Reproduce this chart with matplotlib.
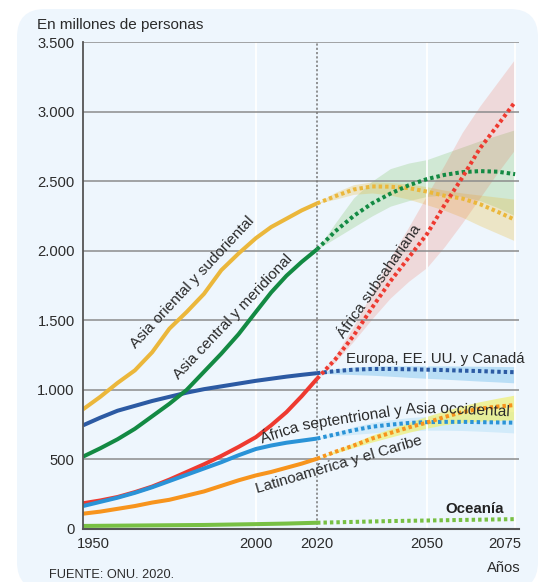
import numpy as np
import matplotlib
matplotlib.use('Agg')
import matplotlib.pyplot as plt
import matplotlib.transforms as mtransforms
from matplotlib.patches import FancyBboxPatch, PathPatch
from matplotlib.font_manager import FontProperties
from matplotlib.textpath import TextPath
from matplotlib.path import Path

plt.rcParams['font.family'] = ['Liberation Sans', 'DejaVu Sans']

# ---- datos (millones de personas) ----
years_hist = [1950, 1955, 1960, 1965, 1970, 1975, 1980, 1985, 1990, 1995, 2000, 2005, 2010, 2015, 2020]
years_proj = [2020, 2025, 2030, 2035, 2040, 2045, 2050, 2055, 2060, 2065, 2070, 2075]

asia_or_hist = [860, 950, 1050, 1140, 1270, 1440, 1560, 1690, 1860, 1980, 2090, 2170, 2230, 2290, 2340]
asia_or_proj = [2340, 2392, 2440, 2462, 2460, 2450, 2425, 2395, 2375, 2335, 2280, 2222]
asia_or_lo = [2340, 2370, 2405, 2415, 2400, 2370, 2330, 2290, 2240, 2180, 2125, 2070]
asia_or_hi = [2340, 2420, 2475, 2495, 2490, 2480, 2460, 2435, 2415, 2400, 2385, 2370]

asia_ce_hist = [520, 580, 645, 720, 810, 900, 1000, 1130, 1260, 1400, 1560, 1700, 1820, 1920, 2010]
asia_ce_proj = [2010, 2140, 2250, 2340, 2410, 2470, 2515, 2545, 2565, 2572, 2568, 2550]
asia_ce_lo = [2010, 2090, 2170, 2250, 2320, 2360, 2390, 2400, 2390, 2360, 2310, 2250]
asia_ce_hi = [2010, 2200, 2380, 2500, 2590, 2630, 2655, 2700, 2745, 2790, 2830, 2870]

afr_sub_hist = [185, 205, 230, 265, 305, 355, 410, 465, 525, 590, 660, 745, 840, 955, 1080]
afr_sub_proj = [1080, 1220, 1390, 1590, 1780, 1950, 2120, 2330, 2525, 2735, 2900, 3070]
afr_sub_lo = [1080, 1200, 1350, 1510, 1660, 1780, 1880, 2030, 2200, 2380, 2560, 2730]
afr_sub_hi = [1080, 1250, 1460, 1700, 1950, 2170, 2400, 2620, 2850, 3040, 3210, 3380]

europa_hist = [745, 800, 850, 885, 920, 950, 980, 1005, 1025, 1045, 1065, 1080, 1095, 1108, 1120]
europa_proj = [1120, 1135, 1145, 1150, 1150, 1148, 1145, 1142, 1138, 1135, 1130, 1127]
europa_lo = [1120, 1115, 1110, 1105, 1098, 1090, 1083, 1077, 1070, 1063, 1057, 1050]
europa_hi = [1120, 1150, 1165, 1170, 1172, 1173, 1172, 1172, 1171, 1170, 1168, 1167]

afr_sep_hist = [165, 195, 225, 260, 300, 345, 390, 435, 480, 530, 575, 600, 620, 635, 650]
afr_sep_proj = [650, 680, 710, 735, 750, 762, 768, 770, 770, 768, 766, 764]
afr_sep_lo = [650, 665, 680, 690, 700, 705, 710, 710, 708, 703, 697, 690]
afr_sep_hi = [650, 695, 735, 765, 785, 800, 810, 818, 825, 832, 838, 845]

latam_hist = [110, 125, 145, 165, 190, 210, 240, 270, 310, 350, 385, 410, 440, 470, 505]
latam_proj = [505, 555, 600, 650, 690, 730, 765, 805, 840, 865, 880, 891]
latam_lo = [505, 545, 585, 625, 660, 695, 725, 750, 765, 775, 780, 785]
latam_hi = [505, 565, 620, 675, 720, 765, 810, 850, 885, 915, 940, 963]

oceania_hist = [22, 23, 24, 25, 26, 27, 28, 29, 31, 33, 35, 37, 39, 42, 45]
oceania_proj = [45, 48, 51, 54, 57, 59, 61, 63, 65, 67, 69, 71]

y_ticks = [0, 500, 1000, 1500, 2000, 2500, 3000, 3500]
y_labels = ['0', '500', '1.000', '1.500', '2.000', '2.500', '3.000', '3.500']
x_ticks = [1950, 2000, 2020, 2050, 2075]

# eje de años algo irregular, como en el original
anchor_years = np.array([1950, 2000, 2020, 2050, 2075], float)
anchor_warp = np.array([1950, 2000, 2017.7, 2049.5, 2075], float)


def fwd(x):
    x = np.asarray(x, float)
    y = np.interp(x, anchor_years, anchor_warp)
    y = np.where(x < 1950, 1950 + (x - 1950), y)
    y = np.where(x > 2075, 2075 + (x - 2075) * 1.02, y)
    return y


def inv(w):
    w = np.asarray(w, float)
    y = np.interp(w, anchor_warp, anchor_years)
    y = np.where(w < 1950, 1950 + (w - 1950), y)
    y = np.where(w > 2075, 2075 + (w - 2075) / 1.02, y)
    return y


BG = '#eef6fd'
TXT = '#2b2b2b'

fig = plt.figure(figsize=(5.41, 5.82), dpi=100)
fig.patches.append(FancyBboxPatch((0.17, -0.08), 5.21, 5.81,
                                  boxstyle='round,pad=0,rounding_size=0.28',
                                  transform=fig.dpi_scale_trans, fc=BG, ec='none', zorder=-5))

ax = fig.add_axes([83 / 541, 53 / 582, 436 / 541, 487 / 582])
ax.set_facecolor('none')
ax.set_xscale('function', functions=(fwd, inv))
ax.set_xlim(1950, 2076.1)
ax.set_ylim(0, 3500)

# bandas de incertidumbre
bands = [
    (europa_lo, europa_hi, '#b9def6', 1.0),
    (afr_sep_lo, afr_sep_hi, '#d2ebfa', 1.0),
    (asia_ce_lo, asia_ce_hi, '#8cc878', 0.3),
    (asia_or_lo, asia_or_hi, '#e9b93a', 0.28),
    (afr_sub_lo, afr_sub_hi, '#ee5a40', 0.18),
    (latam_lo, latam_hi, '#eef07a', 0.75),
]
for lo, hi, c, a in bands:
    ax.fill_between(years_proj, lo, hi, color=c, alpha=a, lw=0, zorder=1)

for y in y_ticks:
    ax.axhline(y, color='#8c8c8c', lw=1.1, zorder=1.8)
for x in [2000, 2050, 2075]:
    ax.axvline(x, color='white', lw=1.3, zorder=1.6)
ax.axvline(2020, color='#777777', lw=1.1, ls=(0, (1.4, 1.4)), zorder=2)

series = [
    ('oceania', oceania_hist, oceania_proj, '#78c043'),
    ('afr_sub', afr_sub_hist, afr_sub_proj, '#ee3a30'),
    ('afr_sep', afr_sep_hist, afr_sep_proj, '#2a93d7'),
    ('latam', latam_hist, latam_proj, '#f7941d'),
    ('europa', europa_hist, europa_proj, '#2c5aa3'),
    ('asia_or', asia_or_hist, asia_or_proj, '#ebb73b'),
    ('asia_ce', asia_ce_hist, asia_ce_proj, '#138a43'),
]
for i, (name, h, p, c) in enumerate(series):
    ax.plot(years_hist, h, color=c, lw=2.9, solid_capstyle='butt', zorder=3 + i * 0.01)
proj_order = ['oceania', 'afr_sep', 'latam', 'europa', 'asia_or', 'asia_ce', 'afr_sub']
lookup = {s[0]: s for s in series}
for i, name in enumerate(proj_order):
    _, h, p, c = lookup[name]
    ax.plot(years_proj, p, color=c, lw=2.9, ls=(0, (0.85, 0.75)),
            dash_capstyle='butt', zorder=4 + i * 0.01)

for s in ['top', 'right']:
    ax.spines[s].set_visible(False)
ax.spines['left'].set_color('#555555')
ax.spines['left'].set_linewidth(1.3)
ax.spines['bottom'].set_color('#555555')
ax.spines['bottom'].set_linewidth(1.5)
ax.spines['left'].set_zorder(5)
ax.spines['bottom'].set_zorder(5)

ax.set_yticks(y_ticks)
ax.set_yticklabels(y_labels)
ax.set_xticks(x_ticks)
ax.set_xticklabels([str(x) for x in x_ticks])
ax.minorticks_off()
ax.tick_params(axis='both', length=0, labelsize=10.6, labelcolor=TXT)
ax.tick_params(axis='y', pad=6)
ax.tick_params(axis='x', pad=6)
xl = ax.get_xticklabels()
xl[0].set_ha('left')
xl[0].set_transform(xl[0].get_transform() + mtransforms.ScaledTranslation(-0.06, 0, fig.dpi_scale_trans))
xl[-1].set_ha('right')
xl[-1].set_transform(xl[-1].get_transform() + mtransforms.ScaledTranslation(0.06, 0, fig.dpi_scale_trans))

fig.text(37 / 541, (582 - 28.5) / 582, 'En millones de personas', fontsize=11, color=TXT, va='baseline')
fig.text(521 / 541, (582 - 572) / 582, 'Años', fontsize=10.6, color=TXT, ha='right', va='baseline')
fig.text(49 / 541, 4 / 582, 'FUENTE: ONU. 2020.', fontsize=9.2, color=TXT, va='baseline')

lab = dict(fontsize=11, color=TXT, rotation_mode='anchor')
ax.text(1981.5, 1771, 'Asia oriental y sudoriental', rotation=47, ha='center', va='center', zorder=6, **lab)
ax.text(1993.3, 1526, 'Asia central y meridional', rotation=46.5, ha='center', va='center', zorder=6, **lab)
ax.text(2036.9, 1782, 'África subsahariana', rotation=55, ha='center', va='center', zorder=6, **lab)
ax.text(2027.8, 1193, 'Europa, EE. UU. y Canadá', ha='left', va='baseline', zorder=6,
        fontsize=10.8, color=TXT)
ax.text(2000.5, 259, 'Latinoamérica y el Caribe', rotation=16.5, ha='left', va='baseline', zorder=6, **lab)
ax.text(2055.1, 113, 'Oceanía', ha='left', va='baseline', fontweight='bold', zorder=6,
        fontsize=10.8, color='#222222')


def curved_text(ax, s, gx, gy, size, color):
    # el contorno del texto se dobla siguiendo una guía
    fp = FontProperties(family=['Liberation Sans', 'DejaVu Sans'], size=size)
    tp = TextPath((0, 0), s, size=size, prop=fp)
    v = tp.vertices * fig.dpi / 72.0
    pts = ax.transData.transform(np.column_stack([gx, gy]))
    seg = np.hypot(np.diff(pts[:, 0]), np.diff(pts[:, 1]))
    cum = np.concatenate([[0], np.cumsum(seg)])
    d = v[:, 0]
    px = np.interp(d, cum, pts[:, 0])
    py = np.interp(d, cum, pts[:, 1])
    tx = np.interp(d + 8, cum, pts[:, 0]) - np.interp(d - 8, cum, pts[:, 0])
    ty = np.interp(d + 8, cum, pts[:, 1]) - np.interp(d - 8, cum, pts[:, 1])
    n = np.hypot(tx, ty)
    tx, ty = tx / n, ty / n
    X = px - v[:, 1] * ty
    Y = py + v[:, 1] * tx
    path = Path(np.column_stack([X, Y]) / fig.dpi, tp.codes)
    fig.add_artist(PathPatch(path, transform=fig.dpi_scale_trans, fc=color, ec='none',
                             lw=0, zorder=10))


guide_x = [2002.0, 2015.4, 2031.7, 2045.4, 2054.6, 2075.0]
guide_y = [614.5, 711.5, 776, 830, 834, 808.5]
curved_text(ax, 'África septentrional y Asia occidental', guide_x, guide_y, 11.1, TXT)

fig.savefig('out.png', dpi=100, facecolor='white')
